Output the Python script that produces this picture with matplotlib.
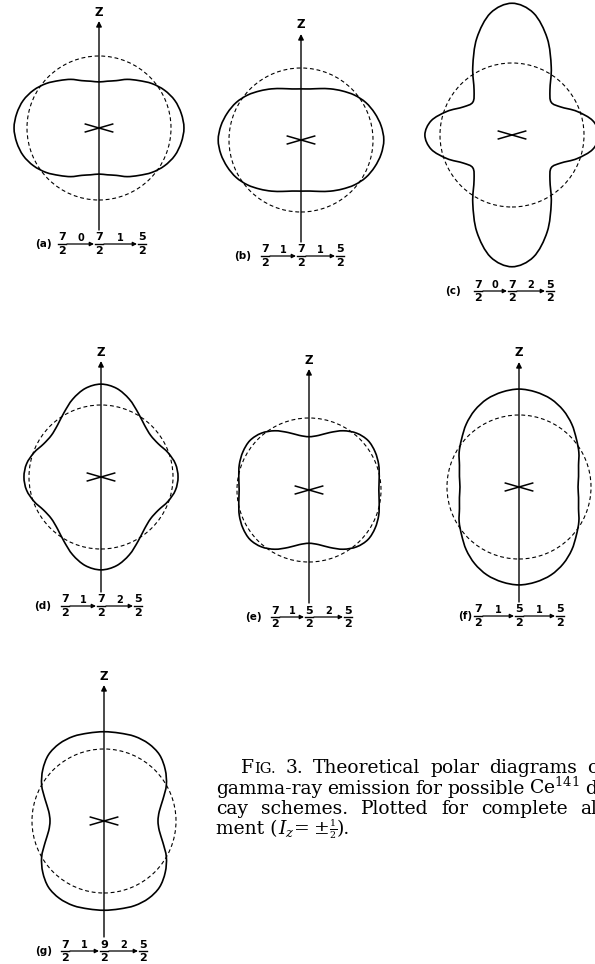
import numpy as np
import matplotlib
matplotlib.use('Agg')
import matplotlib.pyplot as plt
from matplotlib.path import Path
from matplotlib.patches import PathPatch, Circle

plt.rcParams['mathtext.fontset'] = 'dejavuserif'

# relative intensity W(theta), theta measured from the z axis, 0..90 deg
# (diagrams are symmetric about both axes)
angles = np.arange(0, 91, 10)
r_a = [0.64, 0.66, 0.70, 0.78, 0.86, 0.96, 1.05, 1.12, 1.16, 1.18]
r_b = [0.71, 0.72, 0.76, 0.82, 0.89, 0.97, 1.04, 1.09, 1.13, 1.15]
r_c = [1.83, 1.72, 1.43, 1.09, 0.82, 0.71, 0.78, 0.96, 1.14, 1.21]
r_d = [1.29, 1.25, 1.15, 1.03, 0.94, 0.90, 0.92, 0.99, 1.05, 1.07]
r_e = [0.74, 0.77, 0.85, 0.95, 1.03, 1.07, 1.06, 1.03, 0.99, 0.97]
r_f = [1.36, 1.34, 1.30, 1.23, 1.14, 1.04, 0.96, 0.88, 0.84, 0.82]
r_g = [1.24, 1.24, 1.25, 1.24, 1.20, 1.11, 1.00, 0.87, 0.78, 0.75]
iso = 1.0  # isotropic reference (dashed circle)

letters = ['a', 'b', 'c', 'd', 'e', 'f', 'g']
# spins (numerators over 2) and multipolarities of the two steps
spins = [(7, 7, 5), (7, 7, 5), (7, 7, 5), (7, 7, 5), (7, 5, 5), (7, 5, 5), (7, 9, 5)]
mults = [(0, 1), (1, 1), (0, 2), (1, 2), (1, 2), (1, 1), (1, 2)]
curves = [r_a, r_b, r_c, r_d, r_e, r_f, r_g]

cap_words = [
    ['FIG.', '3.', 'Theoretical', 'polar', 'diagrams', 'of'],
    ['gamma-ray', 'emission', 'for', 'possible', 'Ce$^{141}$', 'de-'],
    ['cay', 'schemes.', 'Plotted', 'for', 'complete', 'align-'],
]
cap_last = ['ment (', '$I_z\\!=\\!\\pm$', '$\\frac{1}{2}$', ').']

# layout in pixels
W, H = 595, 964
R = 72
centers = [(99, 128), (301, 140), (512, 135), (101, 477), (309, 490), (519, 487), (104, 821)]
z_y = [12, 25, None, 352, 360, 353, 676]
lab_y = [244, 256, 291, 606, 617, 616, 951]
lab_x = [(43, 62, 142), (243, 265, 340), (453, 478, 550), (43, 65, 138),
         (253, 275, 348), (465, 478, 560), (44, 65, 143)]

fig = plt.figure(figsize=(W / 100, H / 100), dpi=100)
canvas = fig.add_axes([0, 0, 1, 1])
canvas.set_xlim(0, W)
canvas.set_ylim(H, 0)
canvas.axis('off')
renderer = fig.canvas.get_renderer()

sans = dict(family='DejaVu Sans', fontweight='bold', color='k')
serif = dict(family='DejaVu Serif', color='k', va='baseline', ha='left')
CAP = 13.5


def closed_curve(th, r):
    th = np.asarray(th, float)
    r = np.asarray(r, float)
    half_t = np.concatenate([th, 180 - th[-2::-1]])
    half_r = np.concatenate([r, r[-2::-1]])
    t = np.radians(np.concatenate([half_t, 360 - half_t[-2:0:-1]]))
    rr = np.concatenate([half_r, half_r[-2:0:-1]])
    P = np.column_stack([rr * np.sin(t), rr * np.cos(t)])
    n = len(P)
    verts = [P[0]]
    codes = [Path.MOVETO]
    for i in range(n):
        p0, p1, p2, p3 = P[i - 1], P[i], P[(i + 1) % n], P[(i + 2) % n]
        verts += [p1 + (p2 - p0) / 6, p2 - (p3 - p1) / 6, p2]
        codes += [Path.CURVE4] * 3
    return Path(verts, codes)


def fraction(x, y, num):
    canvas.text(x, y - 6.5, str(num), ha='center', va='center', fontsize=8, **sans)
    canvas.plot([x - 4, x + 4], [y, y], color='k', lw=1.0)
    canvas.text(x, y + 7, '2', ha='center', va='center', fontsize=8, **sans)


def word(x, y, s, keep=True):
    # small capitals for "FIG."
    parts = [('F', CAP), ('IG.', CAP * 0.78)] if s == 'FIG.' else [(s, CAP)]
    w = 0
    for p, size in parts:
        t = canvas.text(x + w, y, p, fontsize=size, **serif)
        w += t.get_window_extent(renderer).width
        if not keep:
            t.remove()
    return w


for i, let in enumerate(letters):
    cx, cy = centers[i]
    ax = fig.add_axes([(cx - 2 * R) / W, (H - cy - 2 * R) / H, 4 * R / W, 4 * R / H])
    ax.set_xlim(-2, 2)
    ax.set_ylim(-2, 2)
    ax.axis('off')

    ax.add_patch(Circle((0, 0), iso, fill=False, ec='k', lw=0.8, ls=(0, (3.5, 2.5)),
                        clip_on=False))
    ax.add_patch(PathPatch(closed_curve(angles, curves[i]), fill=False, ec='k', lw=1.2,
                           clip_on=False))
    # nucleus marker
    ax.plot([-0.19, 0.19], [0.055, -0.055], color='k', lw=1.1, clip_on=False)
    ax.plot([-0.19, 0.19], [-0.055, 0.055], color='k', lw=1.1, clip_on=False)

    # z axis
    bottom = lab_y[i] - 14
    if z_y[i] is None:
        top = -20
    else:
        top = z_y[i] + 9
        canvas.text(cx, z_y[i], 'Z', ha='center', va='center', fontsize=8.5, **sans)
    canvas.annotate('', xy=(cx, top), xytext=(cx, bottom),
                    arrowprops=dict(arrowstyle='-|>', lw=1.0, color='k', mutation_scale=8,
                                    shrinkA=0, shrinkB=0))

    # decay scheme label
    y = lab_y[i]
    xl, x1, x3 = lab_x[i]
    canvas.text(xl, y, '(%s)' % let, ha='center', va='center', fontsize=7.5, **sans)
    xs = [x1, cx, x3]
    for j, num in enumerate(spins[i]):
        fraction(xs[j], y, num)
    for j in range(2):
        a0, a1 = xs[j] + 5, xs[j + 1] - 5
        canvas.annotate('', xy=(a1, y), xytext=(a0, y),
                        arrowprops=dict(arrowstyle='-|>', lw=0.9, color='k', mutation_scale=6,
                                        shrinkA=0, shrinkB=0))
        canvas.text((a0 + a1) / 2, y - 6, str(mults[i][j]), ha='center', va='center',
                    fontsize=7, **sans)

# caption, justified lines running off the right edge
cap_x = [241, 216, 216]
cap_end = [587, 585, 580]
cap_y = [773, 794, 814]
for words, x0, x_end, y in zip(cap_words, cap_x, cap_end, cap_y):
    widths = [word(x0, y, w, keep=False) for w in words[:-1]]
    gap = (x_end - x0 - sum(widths)) / (len(words) - 1)
    x = x0
    for w in words:
        x += word(x, y, w) + gap

x = 216
for s in cap_last:
    size = CAP * 0.72 if 'frac' in s else CAP
    t = canvas.text(x, 834, s, fontsize=size, **serif)
    x += t.get_window_extent(renderer).width

fig.savefig('out.png', dpi=100, facecolor='white')
